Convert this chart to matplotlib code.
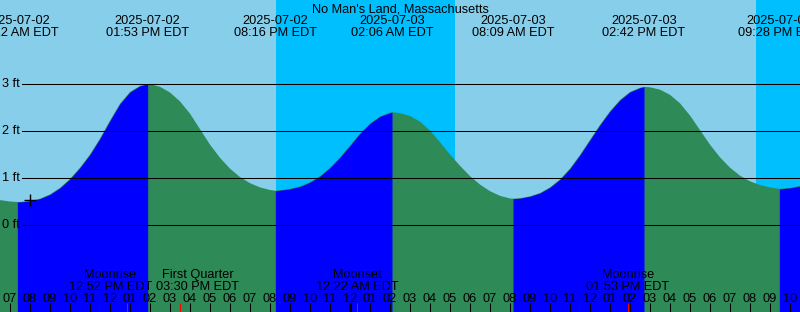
import matplotlib
matplotlib.use("Agg")
import matplotlib.pyplot as plt
import matplotlib.transforms as mtransforms
import numpy as np
from datetime import datetime

START = datetime(2025, 7, 2)


def hours(stamp):
    # hours since 2025-07-02 00:00
    return (datetime.strptime(stamp, "%Y-%m-%d %I:%M %p") - START).total_seconds() / 3600


station = "No Man's Land, Massachusetts"

grid_first = 6.5
tide_ft = [
    0.53, 0.50, 0.49, 0.51, 0.56, 0.65, 0.79, 0.98, 1.22, 1.50,
    1.84, 2.22, 2.58, 2.83, 2.96, 3.00, 2.94, 2.82, 2.63, 2.37,
    2.04, 1.71, 1.43, 1.20, 1.02, 0.89, 0.80, 0.745, 0.74, 0.77,
    0.82, 0.91, 1.04, 1.22, 1.44, 1.69, 1.95, 2.16, 2.31, 2.39,
    2.38, 2.32, 2.20, 2.01, 1.76, 1.50, 1.26, 1.04, 0.86, 0.72,
    0.62, 0.565, 0.57, 0.61, 0.68, 0.80, 0.97, 1.20, 1.49, 1.81,
    2.13, 2.42, 2.66, 2.83, 2.92, 2.93, 2.88, 2.77, 2.59, 2.33,
    2.02, 1.71, 1.44, 1.22, 1.05, 0.93, 0.85, 0.80, 0.77, 0.79,
    0.83,
]

extreme_dates = ["2025-07-02", "2025-07-02", "2025-07-02", "2025-07-03",
                 "2025-07-03", "2025-07-03", "2025-07-03"]
extreme_times = ["07:22 AM", "01:53 PM", "08:16 PM", "02:06 AM",
                 "08:09 AM", "02:42 PM", "09:28 PM"]
extreme_ft = [0.49, 3.00, 0.73, 2.40, 0.56, 2.94, 0.77]

moon_names = ["Moonrise", "First Quarter", "Moonset", "Moonrise"]
moon_dates = ["2025-07-02", "2025-07-02", "2025-07-03", "2025-07-03"]
moon_times = ["12:52 PM", "03:30 PM", "12:22 AM", "01:53 PM"]

night_start = ["2025-07-02 08:18 PM", "2025-07-03 08:18 PM"]
night_end = ["2025-07-03 05:15 AM", "2025-07-04 05:16 AM"]

now_stamp = "2025-07-02 08:00 AM"
now_ft = 0.53

ft_lines = [0, 1, 2, 3]

SKY_DAY = "#87ceeb"
SKY_NIGHT = "#00bfff"
RISING = "#0000ff"
FALLING = "#2e8b57"
FONT = "Liberation Sans"
FS = 9.2

W, H = 800, 312
fig = plt.figure(figsize=(W / 100, H / 100), dpi=100)
ax = fig.add_axes([0, 0, 1, 1])
ax.set_axis_off()
x0, x1 = 6.5, 46.5
y0, y1 = -87 / 47, 225 / 47
ax.set_xlim(x0, x1)
ax.set_ylim(y0, y1)
ax.add_patch(plt.Rectangle((x0, y0), x1 - x0, y1 - y0, color=SKY_DAY, zorder=0))

for a, b in zip(night_start, night_end):
    ax.axvspan(hours(a), hours(b), color=SKY_NIGHT, lw=0, zorder=1)

grid_h = grid_first + 0.5 * np.arange(len(tide_ft))
ext_h = np.array([hours(d + " " + t) for d, t in zip(extreme_dates, extreme_times)])
t_all = np.concatenate([grid_h, ext_h])
f_all = np.concatenate([tide_ft, extreme_ft])
order = np.argsort(t_all)
t_all, f_all = t_all[order], f_all[order]

# falling water everywhere, rising stretches on top
ax.fill_between(t_all, y0, f_all, color=FALLING, lw=0, zorder=2)
bounds = [x0] + list(ext_h) + [x1]
for a, b in zip(bounds[:-1], bounds[1:]):
    if np.interp(b, t_all, f_all) > np.interp(a, t_all, f_all):
        m = (t_all >= a) & (t_all <= b)
        ax.fill_between(t_all[m], y0, f_all[m], color=RISING, lw=0, zorder=3)

for v in ft_lines:
    ax.axhline(v, xmin=22 / W, color="black", lw=0.75, zorder=4)
    ax.text(2 / W, v, f"{v} ft", transform=mtransforms.blended_transform_factory(ax.transAxes, ax.transData),
            ha="left", va="center", fontsize=FS, family=FONT, zorder=5)

ax.plot([hours(now_stamp)], [now_ft], marker="+", color="black", ms=9, mew=1, zorder=5)

top = mtransforms.blended_transform_factory(ax.transData, ax.transAxes)


def ypx(y):
    return 1 - y / H


ax.text(0.5, ypx(12.5), station, transform=ax.transAxes, ha="center", va="baseline",
        fontsize=FS, family=FONT, zorder=6)
for x, d, t in zip(ext_h, extreme_dates, extreme_times):
    ax.text(x, ypx(24), d, transform=top, ha="center", va="baseline", fontsize=FS, family=FONT, zorder=6)
    ax.text(x, ypx(36), t + " EDT", transform=top, ha="center", va="baseline", fontsize=FS,
            family=FONT, zorder=6)

# hour ticks along the bottom
for hr in range(7, 47):
    lab = f"{(hr - 1) % 12 + 1:02d}"
    ax.text(hr, ypx(302), lab, transform=top, ha="center", va="baseline", fontsize=FS, family=FONT, zorder=6)
    lw = 2.2 if hr % 24 == 0 else 0.75
    ax.plot([hr, hr], [ypx(303), 0], transform=top, color="black", lw=lw, solid_capstyle="butt", zorder=6)

# moon events, labels nudged apart where they would collide
label_shift = [-0.85, 0.9, 0, 0]
for name, d, t, s in zip(moon_names, moon_dates, moon_times, label_shift):
    x = hours(d + " " + t)
    ax.plot([x, x], [ypx(303), 0], transform=top, color="red", lw=0.75, solid_capstyle="butt", zorder=7)
    ax.text(x + s, ypx(278), name, transform=top, ha="center", va="baseline", fontsize=FS,
            family=FONT, zorder=6)
    ax.text(x + s, ypx(289.5), t + " EDT", transform=top, ha="center", va="baseline", fontsize=FS,
            family=FONT, zorder=6)

fig.savefig("out.png", dpi=100)
